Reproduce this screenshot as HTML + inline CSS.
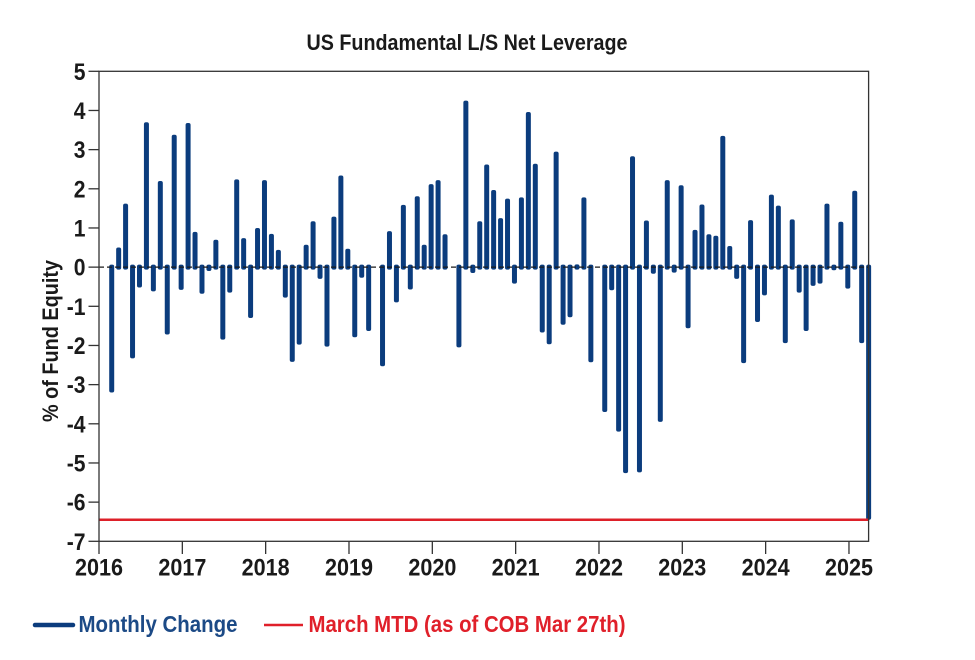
<!DOCTYPE html>
<html lang="en">
<head>
<meta charset="utf-8">
<title>US Fundamental L/S Net Leverage</title>
<style>
html,body{margin:0;padding:0;background:#fff;}
svg{display:block;}
text{font-family:"Liberation Sans",Arial,sans-serif;font-weight:bold;}
</style>
</head>
<body>
<svg id="chart" width="975" height="660" viewBox="0 0 975 660" xmlns="http://www.w3.org/2000/svg">
  <rect width="975" height="660" fill="#ffffff"/>
  <text x="306.5" y="50" font-size="22.5" fill="#1a1a1a" textLength="321" lengthAdjust="spacingAndGlyphs">US Fundamental L/S Net Leverage</text>
  <text transform="translate(58,422) rotate(-90)" font-size="22" fill="#1a1a1a" textLength="162" lengthAdjust="spacingAndGlyphs">% of Fund Equity</text>
  <g id="bars"></g>
  <g id="axes"></g>
  <g>
    <line x1="35" y1="625" x2="73" y2="625" stroke="#0b3c7d" stroke-width="4.5" stroke-linecap="round"/>
    <text x="78.5" y="632" font-size="23" fill="#1c4a86" textLength="159" lengthAdjust="spacingAndGlyphs">Monthly Change</text>
    <line x1="264" y1="625" x2="303" y2="625" stroke="#e0202a" stroke-width="2.5"/>
    <text x="308.5" y="632" font-size="23" fill="#e0202a" textLength="317" lengthAdjust="spacingAndGlyphs">March MTD (as of COB Mar 27th)</text>
  </g>
</svg>
<script>
var monthlyChange = [
  -3.2, 0.5, 1.62, -2.33, -0.52, 3.7, -0.62, 2.2, -1.72, 3.38, -0.58,
  3.68, 0.9, -0.68, -0.1, 0.7, -1.85, -0.65, 2.24, 0.74, -1.3, 1.0, 2.22,
  0.85, 0.44, -0.78, -2.42, -1.98, 0.57, 1.17, -0.3, -2.03, 1.29, 2.34,
  0.47, -1.79, -0.27, -1.63, 0, -2.53, 0.92, -0.9, 1.59, -0.57, 1.81, 0.57,
  2.12, 2.22, 0.84, 0, -2.05, 4.25, -0.15, 1.17, 2.62, 1.97, 1.25, 1.75,
  -0.42, 1.78, 3.96, 2.64, -1.67, -1.97, 2.95, -1.47, -1.28, 0.07, 1.78, -2.43,
  0, -3.7, -0.59, -4.2, -5.26, 2.83, -5.24, 1.19, -0.17, -3.95, 2.22, -0.14,
  2.09, -1.56, 0.95, 1.6, 0.84, 0.8, 3.35, 0.54, -0.3, -2.45, 1.2, -1.4,
  -0.72, 1.85, 1.57, -1.94, 1.22, -0.65, -1.63, -0.48, -0.42, 1.62, -0.08, 1.16,
  -0.55, 1.95, -1.94, -6.45
];
var firstMonthOffset = 1.83;
var marchMtd = -6.45;
var yTicks = [5, 4, 3, 2, 1, 0, -1, -2, -3, -4, -5, -6, -7];
var xTickYears = [2016, 2017, 2018, 2019, 2020, 2021, 2022, 2023, 2024, 2025];

var NS = 'http://www.w3.org/2000/svg';
var plot = {left: 99, right: 868.6, top: 71.3, bottom: 541.3};
var xStart = 2016, xEnd = xStart + (plot.right - plot.left) / 83.33;

function yScale(v) {
  return plot.bottom - (v + 7) / 12 * (plot.bottom - plot.top);
}
function xScale(year) {
  return plot.left + (year - xStart) / (xEnd - xStart) * (plot.right - plot.left);
}
function make(tag, attrs, parent) {
  var el = document.createElementNS(NS, tag);
  for (var k in attrs) el.setAttribute(k, attrs[k]);
  parent.appendChild(el);
  return el;
}

var barsG = document.getElementById('bars');
var axesG = document.getElementById('axes');
var barW = 5, capH = barW / 2, y0 = yScale(0);

monthlyChange.forEach(function (v, i) {
  if (v === 0) return;
  var x = xScale(xStart + (i + firstMonthOffset) / 12);
  var yv = yScale(v);
  var top = Math.min(yv, y0 - capH);
  var bottom = Math.max(yv, y0 + capH);
  var bar = make('rect', {x: x - barW / 2, y: top, width: barW, height: bottom - top, rx: 2, ry: 2, fill: '#0b3c7d'}, barsG);
  
  
});

var zero = make('line', {x1: plot.left, y1: y0, x2: plot.right, y2: y0, stroke: '#1a1a1a', 'stroke-width': 1.3, 'stroke-dasharray': '5 3'}, axesG);



var mtd = make('line', {x1: plot.left, y1: yScale(marchMtd), x2: plot.right, y2: yScale(marchMtd), stroke: '#dd2029', 'stroke-width': 2.6}, axesG);



var frame = make('rect', {x: plot.left, y: plot.top, width: plot.right - plot.left, height: plot.bottom - plot.top, fill: 'none', stroke: '#333333', 'stroke-width': 1.3}, axesG);



yTicks.forEach(function (t) {
  var y = yScale(t);
  var tick = make('line', {x1: 88.5, y1: y, x2: plot.left, y2: y, stroke: '#333333', 'stroke-width': 1.3}, axesG);
  
  
  var label = make('text', {x: 85.5, y: y + 8.6, 'text-anchor': 'end', 'font-size': 24, fill: '#1a1a1a', transform: 'translate(' + (85.5 * 0.12) + ',0) scale(0.88,1)'}, axesG);
  
  
  label.textContent = String(t);
});

xTickYears.forEach(function (yr) {
  var x = xScale(yr);
  var tick = make('line', {x1: x, y1: plot.bottom, x2: x, y2: 554, stroke: '#333333', 'stroke-width': 1.3}, axesG);
  
  
  var label = make('text', {x: x, y: 575.5, 'text-anchor': 'middle', 'font-size': 24, fill: '#1a1a1a', textLength: 48, lengthAdjust: 'spacingAndGlyphs'}, axesG);
  
  
  label.textContent = String(yr);
});
</script>
</body>
</html>
